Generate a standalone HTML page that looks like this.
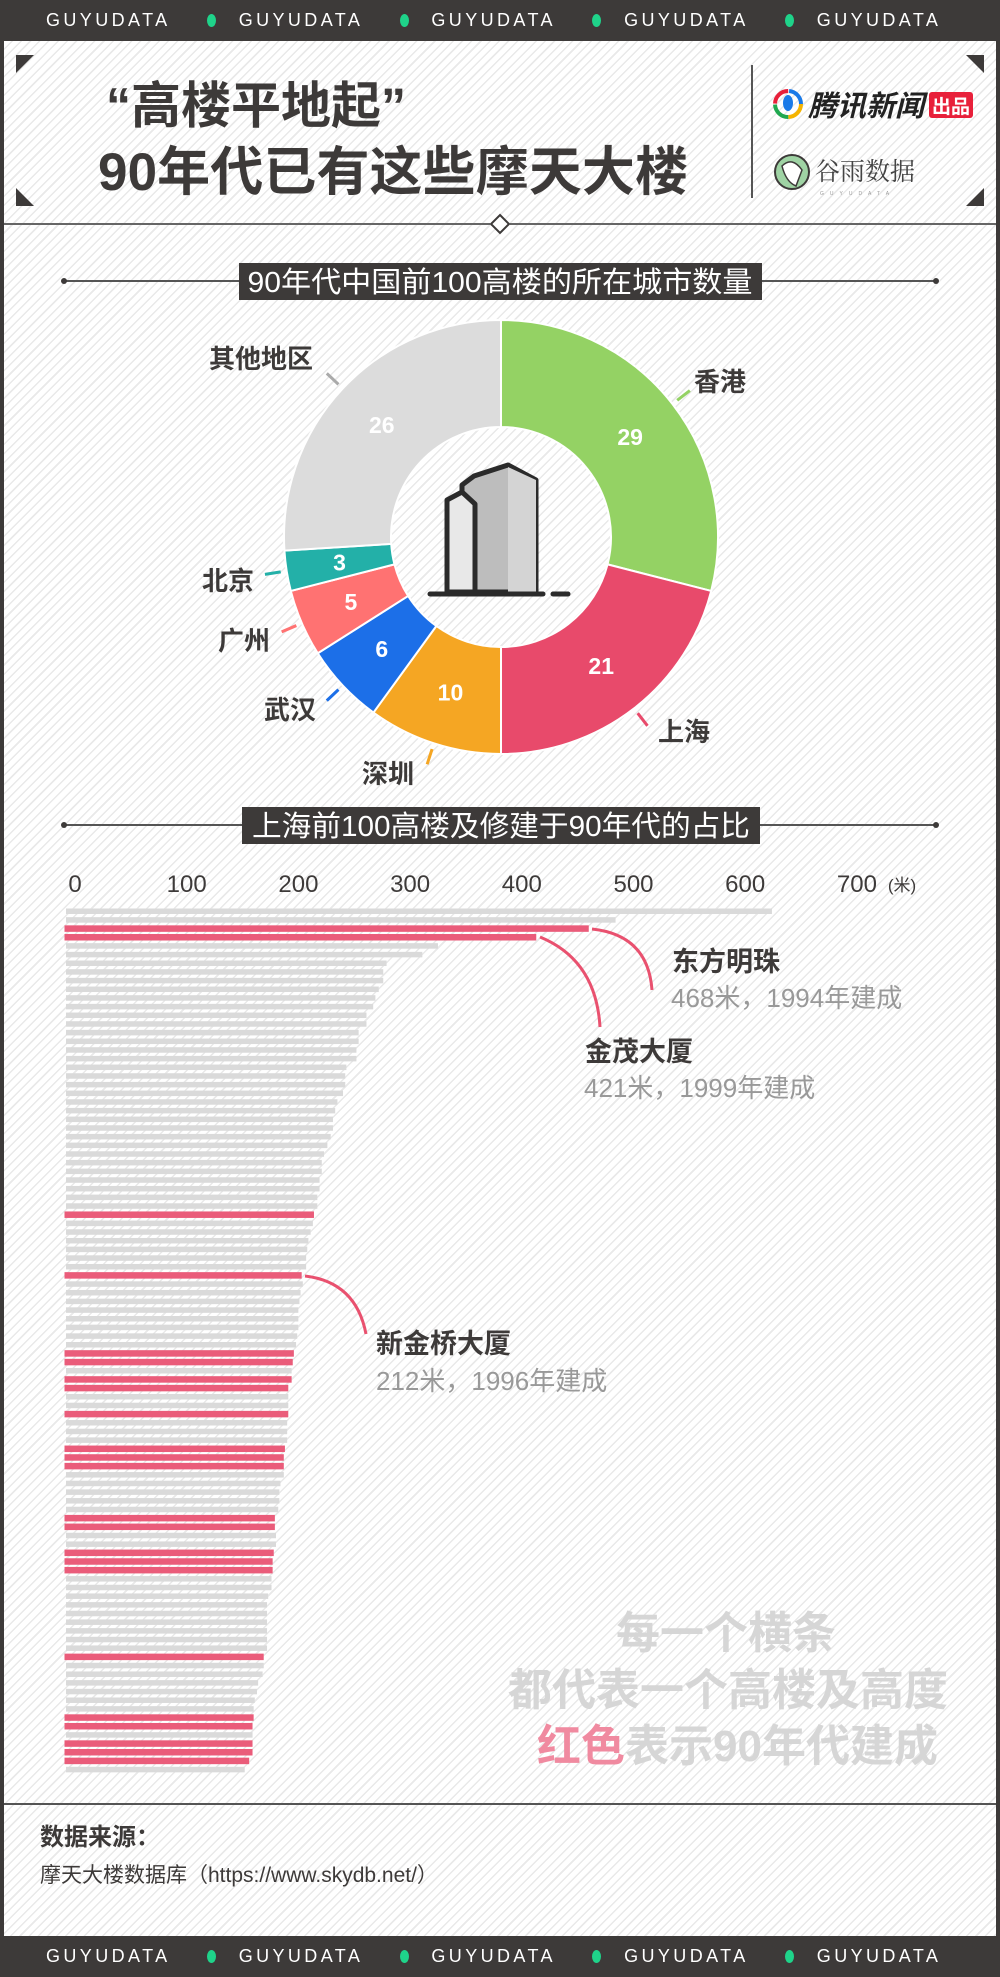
<!DOCTYPE html>
<html><head><meta charset="utf-8">
<style>
*{margin:0;padding:0;box-sizing:border-box}
body{width:1000px;height:1977px;overflow:hidden;background:#3d3a39;font-family:"Liberation Sans","Noto Sans CJK SC",sans-serif;position:relative}
.band{position:absolute;left:0;width:1000px;height:41px;background:#3d3a39;color:#fff;font-size:18px;letter-spacing:3.4px}
.band span{position:absolute;top:10px}
.band i{position:absolute;top:14px;width:9px;height:13px;border-radius:50%;background:#1fd38a}
#paper{position:absolute;left:4px;top:41px;width:992px;height:1895px;background-color:#fff;background-image:repeating-linear-gradient(135deg,#fff 0,#fff 5px,#e9e9e9 5px,#e9e9e9 6.5px)}
.abs{position:absolute}
</style></head><body>
<div class="band" style="top:0"></div>
<div id="paper"></div>
<div class="band" style="top:1936px"></div>

<svg class="abs" style="left:0;top:0" width="1000" height="1977" id="main" font-family="Liberation Sans, Noto Sans CJK SC, sans-serif">
 <polygon points="16,55 34,55 16,73" fill="#3d3a39"/>
 <polygon points="966,55 984,55 984,73" fill="#3d3a39"/>
 <polygon points="16,188 16,206 34,206" fill="#3d3a39"/>
 <polygon points="984,188 984,206 966,206" fill="#3d3a39"/>
 <text x="106" y="123" font-size="50" font-weight="bold" fill="#3d3a39">“高楼平地起”</text>
 <text x="98" y="190" font-size="53" font-weight="bold" fill="#3d3a39" textLength="590">90年代已有这些摩天大楼</text>
 <line x1="752" y1="65" x2="752" y2="198" stroke="#555" stroke-width="2"/>
 <g>
  <circle cx="788" cy="104" r="13" fill="none" stroke="#f5b400" stroke-width="4" stroke-dasharray="20 62"/>
  <circle cx="788" cy="104" r="13" fill="none" stroke="#1fa84f" stroke-width="4" stroke-dasharray="20 62" stroke-dashoffset="-20"/>
  <circle cx="788" cy="104" r="13" fill="none" stroke="#e8203a" stroke-width="4" stroke-dasharray="20 62" stroke-dashoffset="-41"/>
  <circle cx="788" cy="104" r="13" fill="none" stroke="#1a7ae8" stroke-width="4" stroke-dasharray="20 62" stroke-dashoffset="-62"/>
  <ellipse cx="788" cy="103" rx="5" ry="8" fill="#1a7ae8"/>
  <text x="808" y="116" font-size="29" font-weight="bold" font-style="italic" fill="#222">腾讯新闻</text>
  <rect x="929" y="92" width="44" height="26" rx="3" fill="#e8203a"/>
  <text x="951" y="113" font-size="19" font-weight="bold" fill="#fff" text-anchor="middle">出品</text>
 </g>
 <g>
  <circle cx="792" cy="172" r="17" fill="#9fd3a4" stroke="#3d3a39" stroke-width="2"/>
  <path d="M782 166 Q792 156 802 170 L796 186 Q786 182 782 166Z" fill="#fff" stroke="#3d3a39" stroke-width="1.5"/>
  <text x="815" y="180" font-size="25" font-family="Noto Serif CJK SC, serif" fill="#444">谷雨数据</text>
  <text x="820" y="195" font-size="5" letter-spacing="6" fill="#999">GUYUDATA</text>
 </g>
 <line x1="4" y1="224" x2="490" y2="224" stroke="#666" stroke-width="2"/>
 <line x1="510" y1="224" x2="996" y2="224" stroke="#666" stroke-width="2"/>
 <polygon points="500,215 509,224 500,233 491,224" fill="#fff" stroke="#3d3a39" stroke-width="2"/>

 <g>
  <line x1="64" y1="281" x2="936" y2="281" stroke="#555" stroke-width="2"/>
  <circle cx="64" cy="281" r="3" fill="#3d3a39"/><circle cx="936" cy="281" r="3" fill="#3d3a39"/>
  <rect x="239" y="263" width="523" height="37" fill="#3d3a39"/>
  <text x="500" y="292" font-size="29" fill="#fff" text-anchor="middle" textLength="505" lengthAdjust="spacingAndGlyphs">90年代中国前100高楼的所在城市数量</text>
 </g>
 <g id="pie"></g>
 <g stroke="#2b2b2b" stroke-width="5" stroke-linejoin="round">
  <path d="M462 592 L462 485 L474 476 L508 465 L536 480 L536 592Z" fill="#bdbdbd"/>
  <path d="M508 467 L536 480 L536 592 L508 592Z" fill="#d4d4d4" stroke="none"/>
  <path d="M447 592 L447 500 L462 492 L475 504 L475 592Z" fill="#e8e8e8"/>
  <line x1="430" y1="594" x2="543" y2="594" stroke-linecap="round"/>
  <line x1="553" y1="594" x2="568" y2="594" stroke-linecap="round"/>
 </g>

 <g>
  <line x1="64" y1="825" x2="936" y2="825" stroke="#555" stroke-width="2"/>
  <circle cx="64" cy="825" r="3" fill="#3d3a39"/><circle cx="936" cy="825" r="3" fill="#3d3a39"/>
  <rect x="242" y="807" width="518" height="37" fill="#3d3a39"/>
  <text x="501" y="836" font-size="29" fill="#fff" text-anchor="middle" textLength="498" lengthAdjust="spacingAndGlyphs">上海前100高楼及修建于90年代的占比</text>
 </g>
 <g id="axis"></g>
 <g id="bars"></g>
 <g fill="none" stroke="#e9516f" stroke-width="3">
  <path d="M592 929 Q648 935 652 990"/>
  <path d="M540 937 Q596 960 600 1027"/>
  <path d="M305 1276 Q356 1282 366 1334"/>
 </g>
 <text x="672" y="971" font-size="27" font-weight="bold" fill="#3d3a39">东方明珠</text>
 <text x="671" y="1007" font-size="26" fill="#999">468米，1994年建成</text>
 <text x="585" y="1061" font-size="27" font-weight="bold" fill="#3d3a39">金茂大厦</text>
 <text x="584" y="1097" font-size="26" fill="#999">421米，1999年建成</text>
 <text x="376" y="1353" font-size="27" font-weight="bold" fill="#3d3a39">新金桥大厦</text>
 <text x="376" y="1390" font-size="26" fill="#999">212米，1996年建成</text>

 <g font-size="44" font-weight="bold" text-anchor="end">
  <text x="836" y="1648" fill="#d6d6d6">每一个横条</text>
  <text x="948" y="1705" fill="#d6d6d6">都代表一个高楼及高度</text>
  <text x="938" y="1761" fill="#d6d6d6"><tspan fill="#f08aa0">红色</tspan>表示90年代建成</text>
 </g>
 <line x1="4" y1="1804" x2="996" y2="1804" stroke="#555" stroke-width="2"/>
 <text x="40" y="1845" font-size="24" font-weight="bold" fill="#3d3a39">数据来源：</text>
 <text x="40" y="1882" font-size="21" fill="#3d3a39">摩天大楼数据库（https://www.skydb.net/）</text>
</svg>

<script>
document.querySelectorAll('.band').forEach(function(b){
  for(var k=0;k<5;k++){
    var s=document.createElement('span');s.textContent='GUYUDATA';s.style.left=(46+k*192.7)+'px';
    
    
    b.appendChild(s);
    if(k<4){var d=document.createElement('i');d.style.left=(207+k*192.7)+'px';
      
      
      b.appendChild(d);}
  }
});

var cities=['香港','上海','深圳','武汉','广州','北京','其他地区'];
var counts=[29,21,10,6,5,3,26];
var cityColors=['#94d264','#e84a6b','#f5a623','#1c6fe8','#ff7272','#23b0a8','#dcdcdc'];
var NS='http://www.w3.org/2000/svg';
var pie=document.getElementById('pie');
var cx=501,cy=537,R=217,r=110;
var total=counts.reduce(function(a,b){return a+b},0);
function pt(rad,frac){var a=frac*2*Math.PI;return [cx+rad*Math.sin(a),cy-rad*Math.cos(a)];}
var labelPos=[[720,382],[684,732],[388,774],[290,710],[244,641],[228,581],[261,359]];
var acc=0;
counts.forEach(function(v,i){
  var f0=acc/total,f1=(acc+v)/total;acc+=v;
  var large=(f1-f0)>0.5?1:0;
  var a=pt(R,f0),b=pt(R,f1),c=pt(r,f1),d=pt(r,f0);
  var p=document.createElementNS(NS,'path');
  p.setAttribute('d','M'+a+' A'+R+' '+R+' 0 '+large+' 1 '+b+' L'+c+' A'+r+' '+r+' 0 '+large+' 0 '+d+'Z');
  p.setAttribute('fill',cityColors[i]);p.setAttribute('stroke','#fff');p.setAttribute('stroke-width','2');
  
  
  pie.appendChild(p);
  var m=pt((R+r)/2,(f0+f1)/2);
  var t=document.createElementNS(NS,'text');
  t.setAttribute('x',m[0]);t.setAttribute('y',m[1]+8);t.setAttribute('text-anchor','middle');
  t.setAttribute('font-size','23');t.setAttribute('font-weight','bold');t.setAttribute('fill','#fff');
  t.textContent=v;
  
  
  pie.appendChild(t);
  var o1=pt(R+6,(f0+f1)/2),o2=pt(R+22,(f0+f1)/2);
  var l=document.createElementNS(NS,'line');
  l.setAttribute('x1',o1[0]);l.setAttribute('y1',o1[1]);l.setAttribute('x2',o2[0]);l.setAttribute('y2',o2[1]);
  l.setAttribute('stroke',i==6?'#aaa':cityColors[i]);l.setAttribute('stroke-width','3');
  
  
  pie.appendChild(l);
  var lt=document.createElementNS(NS,'text');
  lt.setAttribute('x',labelPos[i][0]);lt.setAttribute('y',labelPos[i][1]+9);lt.setAttribute('text-anchor','middle');
  lt.setAttribute('font-size','26');lt.setAttribute('font-weight','bold');lt.setAttribute('fill','#3d3a39');
  lt.textContent=cities[i];
  
  
  pie.appendChild(lt);
});

var heights=[632,492,468,421,333,319,287,284,284,280,277,275,269,269,262,262,260,260,251,250,250,248,243,241,239,239,237,234,231,229,229,227,227,225,225,222,221,219,217,216,215,215,211,212,210,209,208,208,208,207,206,204,203,202,202,199,199,199,199,198,198,198,196,195,195,195,192,191,191,190,187,187,188,188,186,185,185,184,184,181,180,180,180,180,180,180,177,177,176,172,171,169,168,168,167,167,167,167,164,160];
var built90s=[3,4,36,43,52,53,55,56,59,63,64,65,71,72,75,76,77,87,94,95,97,98,99];
var axisTicks=[0,100,200,300,400,500,600,700];
var x0=66,kx=1.117,y0=908,pitch=8.67;
function xs(v){return x0+v*kx;}
function ys(i){return y0+i*pitch;}
var axis=document.getElementById('axis');
axisTicks.forEach(function(v){
  var t=document.createElementNS(NS,'text');
  t.setAttribute('x',xs(v)+9);t.setAttribute('y',892);t.setAttribute('text-anchor','middle');
  t.setAttribute('font-size','24');t.setAttribute('fill','#3d3a39');t.textContent=v;
  
  
  axis.appendChild(t);
});
var u=document.createElementNS(NS,'text');
u.setAttribute('x',xs(700)+40);u.setAttribute('y',891);u.setAttribute('font-size','17');u.setAttribute('fill','#3d3a39');u.textContent='(米)';


axis.appendChild(u);
var bars=document.getElementById('bars');
heights.forEach(function(h,i){
  var red=built90s.indexOf(i+1)>=0;
  var b=document.createElementNS(NS,'rect');
  b.setAttribute('x',red?x0-1.5:x0);b.setAttribute('y',ys(i)+(red?0:0.5));
  b.setAttribute('width',xs(h)-x0+(red?1.5:0));b.setAttribute('height',red?6.5:5.5);
  b.setAttribute('fill',red?'#ea5c7a':'#dadada');
  
  
  bars.appendChild(b);
});
</script>
</body></html>
